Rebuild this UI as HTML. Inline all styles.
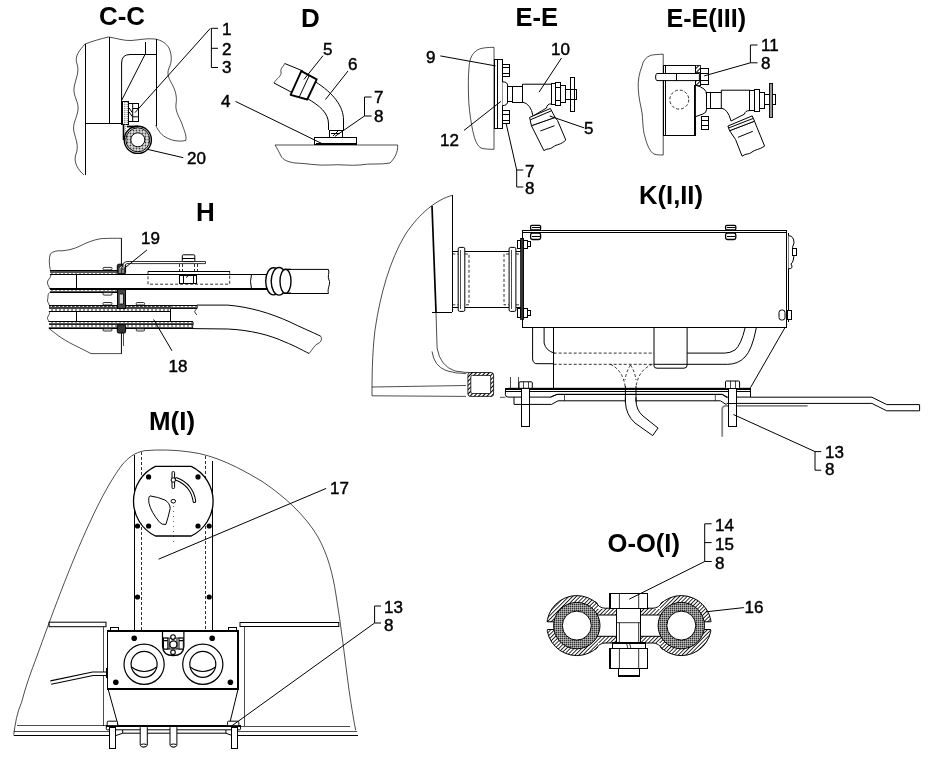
<!DOCTYPE html>
<html><head><meta charset="utf-8">
<style>
html,body{margin:0;padding:0;background:#fff;}
body{width:930px;height:759px;overflow:hidden;}
svg{display:block;will-change:transform;}
text{font-family:"Liberation Sans",sans-serif;fill:#000;}
.t{font-weight:bold;font-size:26px;}
.l{font-size:17px;stroke:#000;stroke-width:0.45px;}
.s{fill:none;stroke:#000;stroke-width:1;}
.th{fill:none;stroke:#000;stroke-width:0.7;}
.k{fill:none;stroke:#000;stroke-width:1.6;}
.w{fill:#fff;stroke:#000;stroke-width:1;}
.d{fill:none;stroke:#000;stroke-width:0.8;stroke-dasharray:3 2;}
</style></head><body>
<svg width="930" height="759" viewBox="0 0 930 759">
<defs>
<pattern id="hat" width="3" height="3" patternUnits="userSpaceOnUse" patternTransform="rotate(45)">
<rect width="3" height="3" fill="#fff"/><line shape-rendering="crispEdges" x1="0" y1="0" x2="0" y2="3" stroke="#000" stroke-width="1"/></pattern>
<pattern id="dots" width="3" height="3" patternUnits="userSpaceOnUse">
<rect width="3" height="3" fill="#ddd"/><circle cx="1.5" cy="1.5" r="0.9" fill="#444"/></pattern>
<pattern id="chain" width="4" height="4" patternUnits="userSpaceOnUse">
<rect width="4" height="4" fill="#555"/><rect x="0.6" y="1" width="2.8" height="2" fill="#fff"/></pattern>
<pattern id="chain2" width="4" height="7" patternUnits="userSpaceOnUse">
<rect width="4" height="7" fill="#444"/><rect x="0.6" y="1" width="2.8" height="2" fill="#fff"/><rect x="2.6" y="4.2" width="2.8" height="1.8" fill="#ddd"/></pattern>
<pattern id="hat2" width="2.7" height="2.7" patternUnits="userSpaceOnUse" patternTransform="rotate(45)">
<rect width="2.7" height="2.7" fill="#fff"/><line shape-rendering="crispEdges" x1="0" y1="0" x2="0" y2="2.7" stroke="#000" stroke-width="0.9"/></pattern>
<pattern id="grain" width="2" height="2" patternUnits="userSpaceOnUse">
<rect width="2" height="2" fill="#888"/><rect x="0" y="0" width="1" height="1" fill="#333"/><rect x="1" y="1" width="1" height="1" fill="#bbb"/></pattern>
</defs>
<rect width="930" height="759" fill="#fff"/>
<!-- TITLES -->
<text class="t" x="99" y="25.3" textLength="46" lengthAdjust="spacingAndGlyphs">C-C</text>
<text class="t" x="301" y="27">D</text>
<text class="t" x="515.5" y="25.8" textLength="42.5" lengthAdjust="spacingAndGlyphs">E-E</text>
<text class="t" x="666.5" y="27.4" textLength="79.5" lengthAdjust="spacingAndGlyphs">E-E(III)</text>
<text class="t" x="196" y="220.8">H</text>
<text class="t" x="639" y="204" textLength="64" lengthAdjust="spacingAndGlyphs">K(I,II)</text>
<text class="t" x="149" y="429.7" textLength="46" lengthAdjust="spacingAndGlyphs">M(I)</text>
<text class="t" x="607.5" y="551.5" textLength="72.5" lengthAdjust="spacingAndGlyphs">O-O(I)</text>
<g id="cc">
<path class="th" d="M85,44 C80,50 74,56 77,64 C80,72 75,80 74,88 C73,96 79,102 78,110 C77,118 72,124 74,132 C76,140 79,146 76,154 C73,162 78,170 84,175"/>
<path class="th" d="M85,44 C93,41 100,39 108.6,37 C116,38 124,41 131,40.5 C139,40 147,38 155,39"/>
<path class="th" d="M155,39 C161,40 166,43 169,48 C172,55 172,62 169,68 C166,75 170,80 173,86 C176,92 177,98 176,104 C175,112 180,118 182,124 C184,130 187,136 185.7,140.5 C181,141.5 178,141 174,140.5 C168,139 162,136 159,131 C157,128 156,127 156,125"/>
<line shape-rendering="crispEdges" class="s" x1="85" y1="44" x2="85" y2="175"/>
<line shape-rendering="crispEdges" class="s" x1="109.8" y1="37" x2="109.8" y2="123.3"/>
<line shape-rendering="crispEdges" class="s" x1="85" y1="123.3" x2="121.6" y2="123.3"/>
<line shape-rendering="crispEdges" class="s" x1="145" y1="41.5" x2="145" y2="54.5"/>
<line shape-rendering="crispEdges" class="s" x1="156" y1="39" x2="156" y2="125.5"/>
<path class="s" d="M156,54.5 L130,54.5 Q121.6,54.5 121.6,63 L121.6,101"/>
<line class="s" x1="145" y1="54.5" x2="121.8" y2="100"/>
<rect shape-rendering="crispEdges" x="121.4" y="101.1" width="7.2" height="23" fill="#fff" stroke="#000" stroke-width="1.1"/>
<rect shape-rendering="crispEdges" x="121.4" y="101.1" width="1.8" height="23" fill="#000"/>
<path d="M124.8,102 L124.8,123.5 M127.2,102 L127.2,123.5" stroke="#555" stroke-width="0.9" stroke-dasharray="1.2 0.8"/>
<rect shape-rendering="crispEdges" class="w" x="128.6" y="103.4" width="10.1" height="18"/>
<path class="s" d="M132.7,103.4 L132.7,121.4 M132.7,108.5 L138.7,108.5 M132.7,116.8 L138.7,116.8 M129.2,108 L132.2,112.5 M129.2,112 L132.2,116.5"/>
<path d="M123.5,124 L123.5,140" stroke="#000" stroke-width="1.6" fill="none"/>
<path d="M125.3,124 L125.3,139" stroke="#777" stroke-width="0.8" fill="none" stroke-dasharray="1.2 0.8"/>
<path d="M126.8,126.5 L138,126.5" stroke="#000" stroke-width="1.8"/>
<circle cx="137.8" cy="139.8" r="9.3" fill="none" stroke="url(#dots)" stroke-width="4.6"/>
<circle cx="137.8" cy="139.8" r="12" fill="none" stroke="#000" stroke-width="1"/>
<circle cx="137.8" cy="139.8" r="13.6" fill="none" stroke="#000" stroke-width="1.4"/>
<circle cx="137.8" cy="139.8" r="7" fill="#fff" stroke="#000" stroke-width="1"/>
<line class="s" x1="135" y1="112.6" x2="210.4" y2="28.3"/>
<path class="s" d="M218,28.3 L211.4,28.3 L211.4,67.5 L218,67.5 M211.4,48.3 L218,48.3"/>
<line class="s" x1="147.7" y1="149.4" x2="183.3" y2="157.7"/>
<text class="l" x="222" y="35.2">1</text>
<text class="l" x="222" y="54.8">2</text>
<text class="l" x="222" y="72.5">3</text>
<text class="l" x="187" y="163.6">20</text>
</g>
<g id="d">
<path class="th" d="M275,145 L397.7,145 C398,152 395,158 390,163 C380,165 370,163 360,165 C350,166 340,164 330,165 C318,166 305,163 295,163 C288,162 283,160 281,156 C279,152 277,148 275,145"/>
<rect shape-rendering="crispEdges" class="w" x="314.7" y="137" width="42" height="7" />
<line shape-rendering="crispEdges" x1="316" y1="143.3" x2="356" y2="143.3" stroke="#000" stroke-width="1.5"/>
<rect shape-rendering="crispEdges" class="w" x="329" y="130" width="13.4" height="7"/>
<line shape-rendering="crispEdges" class="s" x1="331" y1="133.5" x2="340" y2="133.5"/>
<line class="s" x1="333" y1="136" x2="338" y2="131"/>
<path class="s" d="M315.5,81.8 C333,93 343.5,106 343.5,120 L343.5,130"/>
<path class="s" d="M307.2,98.4 C320,106 328.5,113 328.5,124 L328.5,130"/>
<path class="s" d="M284.7,63.5 L303,71 M274,83 L291.8,92.4"/>
<path class="th" d="M284.7,63.5 C283,67 280,69 281,72 C282,76 276,79 274,83"/>
<path d="M301.3,71.1 L316.7,79.4 L307.2,99.5 L290.6,94.8 Z" fill="#fff" stroke="#000" stroke-width="1.9" stroke-linejoin="round"/>
<path class="s" d="M309.5,75 L299,97.5"/>
<line class="s" x1="304" y1="79.4" x2="323" y2="55.7"/>
<line class="s" x1="325.4" y1="99.6" x2="348" y2="71"/>
<path class="s" d="M371.6,97 L364.5,97 L364.5,116 L371.6,116"/>
<line class="s" x1="364.5" y1="116" x2="334.9" y2="136.4"/>
<line class="s" x1="235.5" y1="101.4" x2="321.8" y2="143.5"/>
<text class="l" x="323" y="55">5</text>
<text class="l" x="348" y="70">6</text>
<text class="l" x="374" y="103.2">7</text>
<text class="l" x="374" y="122.1">8</text>
<text class="l" x="221" y="106.5">4</text>
</g>
<g id="ee">
<path class="th" d="M494,47.3 C488,47.5 480,47.5 476,51 C471,55 469.5,60 469,68 C468,78 468.4,85 468.5,95 C468.6,105 470,116 472,127 C474,137 476,145 481,148 C485,149.3 490,149.3 494,149.3 L494,47.3"/>
<rect shape-rendering="crispEdges" x="494.8" y="59.3" width="7.4" height="69" fill="#fff" stroke="#000" stroke-width="1.3"/>
<line shape-rendering="crispEdges" class="s" x1="497" y1="60" x2="497" y2="128"/>
<path class="w" d="M502.4,81.9 Q507.7,81.5 507.7,86 L507.7,101 Q507.7,105.6 502.4,105.6"/>
<rect shape-rendering="crispEdges" class="w" x="502.8" y="64" width="6.8" height="12.4"/>
<line shape-rendering="crispEdges" class="s" x1="502.8" y1="67.5" x2="509.6" y2="67.5"/><line shape-rendering="crispEdges" class="s" x1="502.8" y1="73" x2="509.6" y2="73"/>
<rect shape-rendering="crispEdges" class="w" x="502.8" y="110.7" width="6.8" height="13.1"/>
<line shape-rendering="crispEdges" class="s" x1="502.8" y1="114.5" x2="509.6" y2="114.5"/><line shape-rendering="crispEdges" class="s" x1="502.8" y1="120" x2="509.6" y2="120"/>
<rect shape-rendering="crispEdges" class="w" x="507.7" y="86.6" width="4.8" height="14.8"/>
<rect shape-rendering="crispEdges" class="w" x="512.5" y="86" width="10" height="16"/>
<path class="w" d="M522.5,84.2 L551.6,84.2 L551.6,103.8 Q547,103.8 546.5,108 L533,116 Q531,104 522.5,102 Z" stroke-width="1.1"/>
<rect shape-rendering="crispEdges" class="w" x="551.6" y="83.6" width="4.1" height="20.8"/>
<rect shape-rendering="crispEdges" class="w" x="555.7" y="82.5" width="4.8" height="22.5"/>
<line shape-rendering="crispEdges" class="s" x1="555.7" y1="87" x2="560.5" y2="87"/><line shape-rendering="crispEdges" class="s" x1="555.7" y1="100" x2="560.5" y2="100"/>
<rect shape-rendering="crispEdges" class="w" x="560.5" y="85.4" width="5.3" height="17.2"/>
<rect shape-rendering="crispEdges" class="w" x="570.8" y="77.1" width="3.3" height="34.4"/>
<rect shape-rendering="crispEdges" class="w" x="565.8" y="89.6" width="10.7" height="9.4"/>
<line shape-rendering="crispEdges" class="s" x1="570.8" y1="89.6" x2="570.8" y2="99"/><line shape-rendering="crispEdges" class="s" x1="574.1" y1="89.6" x2="574.1" y2="99"/>
<path class="w" d="M531.4,125.7 L535.6,134 L543.9,150.6 C547,148 550,150 553,147 C557,144 561,145 565.8,140 L557.5,120.4 L555.1,117.4 Z"/>
<path class="w" d="M529.6,117.4 L550.4,108.5 L555.1,117.4 L531.4,125.7 Z" stroke-width="1.2"/>
<line class="s" x1="530.3" y1="119.8" x2="551" y2="111"/>
<line class="s" x1="540.3" y1="131" x2="554.5" y2="125.7"/>
<line class="s" x1="440.3" y1="55.9" x2="495.6" y2="65.9"/>
<line class="s" x1="561.5" y1="58" x2="539" y2="92.2"/>
<line class="s" x1="464" y1="130.4" x2="500.9" y2="101.4"/>
<line class="s" x1="549.7" y1="116" x2="584" y2="127.8"/>
<path class="s" d="M506.2,123.8 L516.7,170 M523.3,170 L516.7,170 L516.7,187 L523.3,187"/>
<text class="l" x="426" y="63.2">9</text>
<text class="l" x="551" y="55.3">10</text>
<text class="l" x="440" y="146">12</text>
<text class="l" x="584" y="134.4">5</text>
<text class="l" x="525" y="176.5">7</text>
<text class="l" x="525" y="193.7">8</text>
</g>
<g id="ee3">
<path class="th" d="M663.2,54.1 C658,54.5 654,54.6 650.7,55.3 C646,57 643,61 642,66 C639,74 638,80 638.2,88 C638.5,98 641,106 642.2,114 C643,124 643,131 645,137 C647,145 650,152 654,154 C657,155 660,155 663.2,155 L663.2,54.1"/>
<rect shape-rendering="crispEdges" class="w" x="663.9" y="65.2" width="32" height="70"/>
<line shape-rendering="crispEdges" class="s" x1="665.8" y1="65.2" x2="665.8" y2="135.2"/>
<line shape-rendering="crispEdges" x1="694.6" y1="85" x2="694.6" y2="135.2" stroke="#000" stroke-width="1.8"/>
<path class="w" d="M657,73.5 L699.4,73.5 L699.4,80.6 L657,80.6 Q655.6,80.6 655.6,77 Q655.6,73.5 657,73.5 Z"/>
<line shape-rendering="crispEdges" class="s" x1="676" y1="73.5" x2="676" y2="80.6"/>
<rect shape-rendering="crispEdges" x="695.9" y="65.2" width="4.7" height="7" fill="url(#hat)" stroke="#000" stroke-width="0.8"/>
<rect shape-rendering="crispEdges" x="695.9" y="80.8" width="4.7" height="5" fill="url(#hat)" stroke="#000" stroke-width="0.8"/>
<rect shape-rendering="crispEdges" class="w" x="700.6" y="68.8" width="7.6" height="15.4"/>
<line shape-rendering="crispEdges" class="s" x1="700.6" y1="73" x2="708.2" y2="73"/><line shape-rendering="crispEdges" class="s" x1="700.6" y1="80" x2="708.2" y2="80"/>
<circle class="d" cx="679.3" cy="99.6" r="9.5" stroke-dasharray="2 2"/>
<path class="w" d="M695.9,85.4 Q700,86 704,89 Q706.6,91 706.6,95 L706.6,109 Q706.6,113 703,114 L695.9,116.5"/>
<rect shape-rendering="crispEdges" class="w" x="701" y="116" width="7.2" height="13.2"/>
<line shape-rendering="crispEdges" class="s" x1="701" y1="120" x2="708.2" y2="120"/><line shape-rendering="crispEdges" class="s" x1="701" y1="125" x2="708.2" y2="125"/>
<rect shape-rendering="crispEdges" class="w" x="706.6" y="92.5" width="15.4" height="15.5"/>
<line shape-rendering="crispEdges" class="s" x1="710" y1="92.5" x2="710" y2="108"/>
<path class="w" d="M721.3,90.2 L749.8,90.2 L749.8,110.6 Q745,110.6 744.5,114.1 L731,121 Q728,109 721.3,108.2 Z" stroke-width="1.1"/>
<rect shape-rendering="crispEdges" class="w" x="749.2" y="90" width="5" height="20"/>
<rect shape-rendering="crispEdges" class="w" x="754.2" y="89" width="5" height="22.5"/>
<rect shape-rendering="crispEdges" class="w" x="759.2" y="92" width="5.5" height="16"/>
<rect shape-rendering="crispEdges" class="w" x="764.7" y="94.9" width="10.6" height="9.4"/>
<rect shape-rendering="crispEdges" x="769.4" y="83.3" width="3.2" height="33.8" fill="#999" stroke="#000" stroke-width="0.9"/>
<path class="w" d="M729.6,130.7 L735.6,139.6 L742.1,156.2 C746,153 749,155 752,152 C756,149 759,150 764.6,146.1 L756.9,127.2 L754.5,121.2 Z"/>
<path class="w" d="M727.9,126 L752.2,115.9 L754.5,121.2 L729.6,130.7 Z" stroke-width="1.2"/>
<line class="s" x1="728.5" y1="128" x2="753" y2="118.5"/>
<line class="s" x1="738" y1="137.3" x2="752.8" y2="131.3"/>
<path class="s" d="M757.5,45 L750.4,45 L750.4,62.8 L757.5,62.8 M750.4,62.8 L704.2,75.9"/>
<text class="l" x="761" y="51">11</text>
<text class="l" x="761" y="68.8">8</text>
</g>
<g id="h">
<path class="th" d="M50.3,269.7 C49,264 49,258 50.3,254 C53,251 58,250.5 62,250.8 C68,250.3 74,249 80,246 C86,243 93,240 100,238.8 C105,238.3 110,238.3 121.4,238.3 L121.4,264"/>
<path class="th" d="M48.5,328 C52,331 55,333 58,335.5 C63,339 68,342 73,344.5 C80,348 86,351 91,353.6 L121.4,353.6 L121.4,333"/>
<line shape-rendering="crispEdges" class="th" x1="123.2" y1="333" x2="123.2" y2="346"/>
<path class="th" d="M50.3,274.3 C52,277 48,279 47.5,282 C47,285 50,287 49.5,289 M49.5,292.5 C47,295 48.5,298 47.5,300 C47,302 49.5,303.5 49,305 M49,311.6 C51,314 47,316 47.5,318.5 C48,320 49,321 48.5,322"/>
<!-- band A -->
<rect shape-rendering="crispEdges" x="50.3" y="270.1" width="67" height="4.2" fill="url(#chain)"/>
<line shape-rendering="crispEdges" x1="50.3" y1="270.1" x2="117.3" y2="270.1" stroke="#000" stroke-width="1.1"/>
<line shape-rendering="crispEdges" x1="50" y1="274.3" x2="267.4" y2="274.3" stroke="#000" stroke-width="1.3"/>
<!-- rod -->
<line shape-rendering="crispEdges" x1="49.5" y1="289.1" x2="267.4" y2="289.1" stroke="#000" stroke-width="1.5"/>
<line shape-rendering="crispEdges" class="s" x1="76.1" y1="274.3" x2="76.1" y2="289.1"/>
<!-- band B -->
<rect shape-rendering="crispEdges" x="49.5" y="289.7" width="67.8" height="2.6" fill="url(#chain)"/>
<line shape-rendering="crispEdges" x1="49.5" y1="292.4" x2="117.3" y2="292.4" stroke="#000" stroke-width="1.1"/>
<!-- band C -->
<rect shape-rendering="crispEdges" x="49" y="305.1" width="121.6" height="6.5" fill="url(#chain2)"/>
<rect shape-rendering="crispEdges" x="170.6" y="305.1" width="26.2" height="3.5" fill="url(#chain)"/>
<line shape-rendering="crispEdges" x1="49" y1="305.1" x2="196.8" y2="305.1" stroke="#000" stroke-width="1"/>
<line shape-rendering="crispEdges" x1="49" y1="311.6" x2="170.6" y2="311.6" stroke="#000" stroke-width="1.2"/>
<line shape-rendering="crispEdges" x1="170.6" y1="308.6" x2="196.8" y2="308.6" stroke="#000" stroke-width="0.8"/>
<!-- sleeve -->
<rect shape-rendering="crispEdges" x="76.1" y="311.6" width="94.5" height="10.5" fill="#fff" stroke="#000" stroke-width="1"/>
<line shape-rendering="crispEdges" x1="170.6" y1="308.6" x2="170.6" y2="322.1" stroke="#000" stroke-width="1.3"/>
<!-- band D -->
<rect shape-rendering="crispEdges" x="48.5" y="322" width="144.4" height="6.6" fill="url(#chain)"/>
<line shape-rendering="crispEdges" x1="48.5" y1="321.8" x2="192.9" y2="321.8" stroke="#000" stroke-width="1"/>
<line shape-rendering="crispEdges" x1="48.5" y1="324" x2="192.9" y2="324" stroke="#000" stroke-width="0.6"/>
<line shape-rendering="crispEdges" x1="48.5" y1="328.6" x2="192.9" y2="328.6" stroke="#000" stroke-width="1.1"/>
<path d="M196.8,305.1 C198.5,307 197,309 195,310.5 C194,312 196,314 197,315 M192.9,321.8 C194.5,323.5 191.5,326 193,328.6" fill="none" stroke="#000" stroke-width="0.8"/>
<!-- pads -->
<g fill="#fff" stroke="#000" stroke-width="0.8">
<rect x="103" y="267.4" width="9" height="2.5" rx="1"/>
<rect x="103" y="292.6" width="9" height="2.5" rx="1"/>
<rect x="103" y="302.5" width="9" height="2.5" rx="1"/>
<rect x="136.2" y="302.5" width="8.3" height="2.5" rx="1"/>
<rect x="103" y="328.8" width="9" height="2.2" rx="1"/>
<rect x="136.2" y="328.8" width="8.3" height="2.2" rx="1"/>
</g>
<!-- clamps -->
<rect x="117.3" y="264.2" width="8.3" height="9.8" rx="1.5" fill="#333" stroke="#000" stroke-width="1"/>
<path d="M120,273 L120,268 Q121.5,265.5 123,268 L123,273" fill="none" stroke="#fff" stroke-width="0.8"/>
<rect shape-rendering="crispEdges" x="117.3" y="289.7" width="8.3" height="18.4" fill="#444" stroke="#000" stroke-width="1"/>
<path d="M119.8,294 L123.5,294 L123.5,304 L119.8,304" fill="#ddd" stroke="#000" stroke-width="0.8"/>
<rect x="117.3" y="324.7" width="8.3" height="8.3" rx="1.5" fill="#333" stroke="#000" stroke-width="1"/>
<line shape-rendering="crispEdges" x1="121.4" y1="238.3" x2="121.4" y2="266" stroke="#000" stroke-width="0.7"/>
<!-- plate -->
<path d="M123,270 L123,265 Q123.5,261.5 127,261.5 L205.5,261.5 L205.5,263.6 L127,263.6 Q125,264 125,266" fill="#fff" stroke="#000" stroke-width="0.8"/>
<rect class="w" x="182.3" y="254.8" width="12.5" height="6.8" rx="1"/>
<line shape-rendering="crispEdges" class="s" x1="182.3" y1="258.5" x2="194.8" y2="258.5"/>
<g class="d" stroke-dasharray="2 1.5"><line shape-rendering="crispEdges" x1="179.4" y1="263.6" x2="179.4" y2="271.3"/><line shape-rendering="crispEdges" x1="182.3" y1="263.6" x2="182.3" y2="271.3"/><line shape-rendering="crispEdges" x1="194.8" y1="263.6" x2="194.8" y2="271.3"/><line shape-rendering="crispEdges" x1="197.7" y1="263.6" x2="197.7" y2="271.3"/></g>
<!-- dashed box -->
<line shape-rendering="crispEdges" class="s" x1="148" y1="271.3" x2="229.7" y2="271.3"/>
<path class="d" d="M148,271.3 L148,284.2 L229.7,284.2 L229.7,271.3"/>
<rect shape-rendering="crispEdges" class="w" x="179.4" y="275.2" width="17.4" height="8.7"/>
<line shape-rendering="crispEdges" class="s" x1="183" y1="275.2" x2="183" y2="283.9"/><line shape-rendering="crispEdges" class="s" x1="193" y1="275.2" x2="193" y2="283.9"/>
<line class="s" x1="186" y1="277.5" x2="189" y2="275.2"/>
<path class="s" d="M251.5,274.3 Q249.5,281.5 251.5,289.1"/>
<!-- hose coupling -->
<path class="w" d="M284,269.4 L328.4,269.4 C330,273 327,276 329,280 C331,284 327,288 328.4,293.5 L284,293.5 Z"/>
<ellipse cx="273.5" cy="281.3" rx="7.8" ry="13.6" fill="#fff" stroke="#000" stroke-width="1.4"/>
<ellipse cx="279" cy="281.3" rx="7.8" ry="13.8" fill="#fff" stroke="#000" stroke-width="1.4"/>
<ellipse cx="285.5" cy="281.3" rx="5.5" ry="12" fill="#fff" stroke="#000" stroke-width="1.4"/>
<path d="M287,269.4 L291,269.4 M287,293.2 L291,293.2" stroke="#000" stroke-width="1.2"/>
<!-- lower pipe right -->
<path class="s" d="M196.8,305.1 L227.7,305.1 C250,307 270,313 290,322 C300,327 312,332 320.6,336.1"/>
<path class="s" d="M192.9,328.6 L227.7,329 C250,330 270,335 285,342 C295,346 302,350 309,353.5"/>
<path class="th" d="M320.6,336.1 C323,340 320,343 317,344 C314,346 313,349 309,353.5"/>
<line shape-rendering="crispEdges" class="th" x1="121.4" y1="333" x2="121.4" y2="353.6"/>
<line class="s" x1="146.9" y1="250" x2="125" y2="267.8"/>
<line class="s" x1="153.6" y1="319.5" x2="172" y2="350.8"/>
<text class="l" x="141" y="244.4">19</text>
<text class="l" x="168.5" y="372.4">18</text>
</g>
<g id="k">
<path class="th" d="M452.3,195.4 C438,199 420,212 405,235 C390,260 380,295 375,330 C372,355 372,380 372,395.8 L466,396.4"/>
<line shape-rendering="crispEdges" x1="452.3" y1="195.4" x2="452.3" y2="312.2" stroke="#000" stroke-width="1.2"/>
<line shape-rendering="crispEdges" x1="432" y1="312.2" x2="452.3" y2="312.2" stroke="#000" stroke-width="1.2"/>
<path d="M432,206 L436,312" stroke="#000" stroke-width="1.7" fill="none"/>
<path class="th" d="M436,312 L437.1,348 Q440,366 455,371 Q466,373 476.6,372.6"/>
<path class="th" d="M432,351.4 Q434,366 446,370.5 Q455,373.6 466.3,373.6"/>
<path class="th" d="M372,387 L466,385.5"/>
<rect x="467.9" y="372.5" width="25.7" height="23.9" rx="2.5" fill="url(#hat)" stroke="#000" stroke-width="0.8"/>
<rect x="470.8" y="375.4" width="19.9" height="18.1" rx="1.5" fill="#fff" stroke="#000" stroke-width="0.8"/>
<!-- connector -->
<line shape-rendering="crispEdges" class="s" x1="452.3" y1="251.4" x2="521.4" y2="251.4"/>
<line shape-rendering="crispEdges" class="s" x1="452.3" y1="307.2" x2="521.4" y2="307.2"/>
<path class="d" d="M452.3,254 L458,254 M452.3,304.8 L458,304.8 M464.8,254 L469,254 L469,304.8 L464.8,304.8 M509.1,254 L504,254 L504,304.8 L509.1,304.8 M516,254 L521,254 M516,304.8 L521,304.8" stroke-dasharray="2.5 1.5"/>
<rect class="w" x="458.2" y="247.4" width="6.6" height="64" rx="1.5" stroke-width="1.2"/>
<rect class="w" x="509.1" y="247.4" width="6.8" height="64" rx="1.5" stroke-width="1.2"/>
<line shape-rendering="crispEdges" class="th" x1="460" y1="250" x2="460" y2="309"/>
<line shape-rendering="crispEdges" class="th" x1="511" y1="250" x2="511" y2="309"/>
<!-- box -->
<rect shape-rendering="crispEdges" class="w" x="522.5" y="230" width="263.7" height="97.3" stroke-width="1.3"/>
<line shape-rendering="crispEdges" class="s" x1="522.5" y1="232.6" x2="786.2" y2="232.6"/>
<line shape-rendering="crispEdges" class="s" x1="788.5" y1="233" x2="788.5" y2="322"/>
<path class="w" d="M788.5,235.6 Q794,236 794,243 Q791,247 794,252 Q794,262 791,264 Q794,268.8 788.5,268.8"/>
<rect shape-rendering="crispEdges" class="w" x="792.5" y="248.2" width="4.3" height="7"/>
<rect shape-rendering="crispEdges" x="520.6" y="238.4" width="3.2" height="80.9" fill="#333" stroke="#000" stroke-width="0.8"/>
<g fill="#fff" stroke="#000" stroke-width="1">
<rect shape-rendering="crispEdges" x="517.5" y="240.3" width="3" height="7.9"/><rect shape-rendering="crispEdges" x="523.8" y="240.3" width="4" height="7.9"/><rect shape-rendering="crispEdges" x="527.8" y="241.8" width="3" height="5"/>
<rect shape-rendering="crispEdges" x="517.5" y="308.3" width="3" height="8.7"/><rect shape-rendering="crispEdges" x="523.8" y="308.3" width="4" height="8.7"/><rect shape-rendering="crispEdges" x="527.8" y="310" width="3" height="5.5"/>
<rect x="530.6" y="225.3" width="10" height="4.7" rx="1.2" stroke-width="1.3"/><rect x="530.6" y="233.2" width="10" height="6.3" rx="1.8" stroke-width="1.3"/>
<rect x="725.6" y="225.3" width="10.2" height="4.7" rx="1.2" stroke-width="1.3"/><rect x="725.6" y="233.2" width="10.2" height="6.3" rx="1.8" stroke-width="1.3"/>
<rect x="779" y="310" width="6" height="10" rx="2.5"/><rect shape-rendering="crispEdges" x="787" y="310.5" width="4.5" height="9"/>
</g>
<line shape-rendering="crispEdges" x1="531.5" y1="227.6" x2="539.5" y2="227.6" stroke="#000" stroke-width="1"/>
<line shape-rendering="crispEdges" x1="531.5" y1="236.3" x2="539.5" y2="236.3" stroke="#000" stroke-width="1"/>
<line shape-rendering="crispEdges" x1="726.7" y1="227.6" x2="734.6" y2="227.6" stroke="#000" stroke-width="1"/>
<line shape-rendering="crispEdges" x1="726.7" y1="236.3" x2="734.6" y2="236.3" stroke="#000" stroke-width="1"/>
<!-- lower body -->
<path class="s" d="M532.6,327.5 L532.6,359 Q533,363.7 537,363.7 L553.7,363.7"/>
<path class="s" d="M544.1,327.5 L544.1,343 Q546,351 554.6,353.1"/>
<line shape-rendering="crispEdges" class="s" x1="553.7" y1="327.5" x2="553.7" y2="387.8"/>
<path class="d" d="M553.7,353.1 L654,353.1 M553.7,364.3 L654,364.3 M610.3,364.3 Q623,370 625.4,387.8 M652.5,364.3 Q638,370 635.9,387.8 M630.5,365 Q626,372 625,380 M630.5,365 Q635,372 636,380" stroke-dasharray="2.5 1.8"/>
<path class="s" d="M654,327.5 L654,366 Q654,368.2 657,368.2 L684,368.2 Q687.1,368.2 687.1,365 L687.1,327.5"/>
<path class="s" d="M756.4,327.5 Q752,350 745,357 Q738,364.3 727.8,364.3 L654,364.3"/>
<path class="s" d="M745.2,327.5 Q741,345 735,350 Q730,353.1 724.8,353.1 L687.1,353.1"/>
<line class="s" x1="785" y1="327.5" x2="750.4" y2="387.8"/>
<!-- base plate & rail -->
<path d="M508,397.1 L550.5,397.1 L557,394.4 L722.2,394.4 L727.3,397.1 L750.5,397.1 L750.5,388.3 L508,388.3 Q505.4,388.3 505.4,391 L505.4,394.5 Q505.4,397.1 508,397.1 Z" fill="#fff" stroke="#000" stroke-width="1"/>
<line shape-rendering="crispEdges" x1="505.4" y1="388.9" x2="750.5" y2="388.9" stroke="#000" stroke-width="2"/>
<line shape-rendering="crispEdges" x1="505.4" y1="391" x2="750.5" y2="391" stroke="#000" stroke-width="1"/>
<path class="th" d="M500,397.3 L505.4,397.3"/>
<path class="s" d="M550.5,397.1 L557,394.4 L722.2,394.4 L727.3,397.8"/>
<path class="s" d="M514,397.1 L514,404.4 L551.6,404.4 L558,400.8 L720.4,400.8 L726.5,404.7"/>
<path class="th" d="M564.5,394.4 L564.5,400.8 M715.3,394.4 L715.3,400.8"/>
<path class="s" d="M750.5,397.2 L871.9,397.2 L886.7,404.6 L919.6,404.6 L919.6,410.8 L886.7,410.8 L871.9,403.4 L726.5,403.4"/>
<path d="M722.2,436.8 L722.2,409 Q722.5,405.8 726,405.8 L807.6,405.8" fill="none" stroke="#888" stroke-width="1.8"/>
<line shape-rendering="crispEdges" class="th" x1="510.8" y1="376.5" x2="510.8" y2="388.3"/>
<line shape-rendering="crispEdges" class="th" x1="518.3" y1="376.5" x2="518.3" y2="388.3"/>
<!-- bolts -->
<rect shape-rendering="crispEdges" class="w" x="521.5" y="388.3" width="8" height="38"/>
<line shape-rendering="crispEdges" class="s" x1="521.5" y1="404.4" x2="529.5" y2="404.4"/>
<rect class="w" x="519" y="381.8" width="13.3" height="6.5" rx="1"/>
<line shape-rendering="crispEdges" class="th" x1="523" y1="382" x2="523" y2="388"/><line shape-rendering="crispEdges" class="th" x1="528" y1="382" x2="528" y2="388"/>
<rect shape-rendering="crispEdges" class="w" x="728.4" y="388.5" width="8.2" height="37.9"/>
<line shape-rendering="crispEdges" class="s" x1="728.4" y1="403.4" x2="736.6" y2="403.4"/>
<rect class="w" x="725.5" y="381" width="14.1" height="7.5" rx="1"/>
<line shape-rendering="crispEdges" class="th" x1="730" y1="381" x2="730" y2="388.5"/><line shape-rendering="crispEdges" class="th" x1="735" y1="381" x2="735" y2="388.5"/>
<!-- drain -->
<path class="w" d="M625.4,397.5 L625.4,402 Q626,415 635,423 L652.7,435.6 L658,428 L643,416 Q636,410 636,400 L636,397.5"/>
<path class="s" d="M625.4,386 L625.4,402 M636,386 L636,402"/>
<line class="s" x1="733.4" y1="414.5" x2="815" y2="451.6"/>
<path class="s" d="M821.2,451.6 L815,451.6 L815,470.2 L821.2,470.2"/>
<text class="l" x="825" y="457.8">13</text>
<text class="l" x="825" y="475.1">8</text>
</g>
<g id="m">
<path class="th" d="M13.7,734.7 C15,725 17,712 21.6,702.3 C26,685 31,672 37,656 C50,620 70,565 90,522 C100,500 112,478 122,465 C128,458 134,452.6 145,450.6 C160,449.5 175,449.8 190,452 C215,455 240,468 263,482 C285,497 305,515 318,537 C328,555 333,575 336,595 C341,625 345,660 349,690 C352,710 354,722 355.7,730.3"/>
<!-- beams -->
<rect class="w" x="49.1" y="622.2" width="56.9" height="4.5" stroke="#555" stroke-width="0.8"/>
<line shape-rendering="crispEdges" class="th" x1="103.1" y1="626.7" x2="103.1" y2="725.9"/>
<line shape-rendering="crispEdges" class="th" x1="16.7" y1="725.9" x2="106" y2="725.9"/>
<rect class="w" x="240" y="622.5" width="98.8" height="4" stroke="#555" stroke-width="0.8"/>
<line shape-rendering="crispEdges" class="th" x1="244" y1="626.5" x2="244" y2="726"/>
<line shape-rendering="crispEdges" class="th" x1="238" y1="726" x2="350" y2="726"/>
<path class="th" d="M13.7,731.5 L115.8,731.5 M231,731.5 L357,731.5"/>
<path class="s" d="M13.7,735.5 L116,735.5 L122.7,733.2 L225.9,733.2 L232,735.5 L358,735.5 M122.7,729.8 L122.7,733.2 M225.9,729.8 L225.9,733.2"/>
<!-- column -->
<line shape-rendering="crispEdges" x1="134.7" y1="454.5" x2="134.7" y2="631.2" stroke="#000" stroke-width="1.5"/>
<line shape-rendering="crispEdges" x1="212.3" y1="460.5" x2="212.3" y2="631.2" stroke="#000" stroke-width="1.5"/>
<line shape-rendering="crispEdges" class="d" x1="141.7" y1="452" x2="141.7" y2="631" stroke-dasharray="3 2"/>
<line shape-rendering="crispEdges" class="d" x1="205" y1="456" x2="205" y2="631" stroke-dasharray="3 2"/>
<!-- disc -->
<path d="M155.4,466.4 L191.2,466.4 A38.6,38.6 0 0 1 191.2,536 L155.4,536 A38.6,38.6 0 0 1 155.4,466.4 Z" fill="#fff" stroke="#000" stroke-width="1.3"/>
<g fill="#000">
<circle cx="148.6" cy="476.9" r="2.6"/><circle cx="198" cy="476.9" r="2.6"/>
<circle cx="148.6" cy="526" r="2.6"/><circle cx="198" cy="526" r="2.6"/>
<circle cx="137.5" cy="526" r="2.6"/><circle cx="209.2" cy="526" r="2.6"/>
<circle cx="137.5" cy="597" r="2.6"/><circle cx="209.2" cy="597" r="2.6"/>
</g>
<path d="M176.5,479 Q192,485 194.4,501.2" fill="none" stroke="#000" stroke-width="3.6" stroke-linecap="round"/>
<path d="M176.5,479 Q192,485 194.4,501.2" fill="none" stroke="#fff" stroke-width="1.6" stroke-linecap="round"/>
<rect class="w" x="172" y="471.6" width="2.6" height="16.9" rx="1"/>
<circle class="w" cx="173.3" cy="480" r="2.2"/>
<ellipse class="w" cx="173.3" cy="501.2" rx="2.3" ry="1.8"/>
<path class="s" d="M150,495.9 Q158,497 164.9,500 Q170,503 170.2,508.6 Q168,518 165.9,524.4 Q162,525 159.6,522.3 Q151,512 149,503.3 Q148,497 150,495.9 Z" stroke-width="1.2"/>
<line shape-rendering="crispEdges" x1="173.3" y1="506" x2="173.3" y2="542" stroke="#000" stroke-width="0.6" stroke-dasharray="1 4"/>
<!-- leader 17 -->
<line class="s" x1="158.6" y1="559.2" x2="326.2" y2="488.4"/>
<text class="l" x="330" y="493.8">17</text>
<!-- box -->
<rect shape-rendering="crispEdges" class="w" x="110" y="627.7" width="8.5" height="3.9"/>
<rect shape-rendering="crispEdges" class="w" x="228" y="627.7" width="8.5" height="3.9"/>
<rect shape-rendering="crispEdges" x="107.4" y="631.2" width="130.8" height="57.5" fill="#fff" stroke="#000" stroke-width="1.8"/>
<path d="M162.5,632 L162.5,646.4 Q163,655.6 173.2,655.6 Q183.4,655.6 183.9,646.4 L183.9,632" fill="#fff" stroke="#000" stroke-width="1.2"/>
<path d="M163,638.1 L183.4,638.1 M163,649 L183.4,649 M169.1,639 L169.1,649 M177,639 L177,649" stroke="#000" stroke-width="1" fill="none"/>
<rect x="163.5" y="638.1" width="4.3" height="10.9" fill="#fff" stroke="#000" stroke-width="1"/>
<rect x="179" y="638.1" width="4.3" height="10.9" fill="#fff" stroke="#000" stroke-width="1"/>
<path d="M163.5,640.7 L167.8,640.7 M179,640.7 L183.3,640.7" stroke="#000" stroke-width="1.2"/>
<circle cx="173" cy="637.1" r="2.3" fill="#fff" stroke="#000" stroke-width="1.1"/>
<circle cx="173.4" cy="644.4" r="3.6" fill="#fff" stroke="#000" stroke-width="1.3"/>
<circle cx="173" cy="652.3" r="2.3" fill="#fff" stroke="#000" stroke-width="1.1"/>
<g fill="none" stroke="#000" stroke-width="1.2">
<circle cx="144.1" cy="664.3" r="20.1"/><circle cx="144.1" cy="664.3" r="13"/>
<circle cx="202.8" cy="664.3" r="20.1"/><circle cx="202.8" cy="664.3" r="13"/>
<path d="M131.5,667 Q144.1,676 156.7,667 M190.2,667 Q202.8,676 215.4,667"/>
</g>
<g fill="#000"><circle cx="134.2" cy="638.3" r="2.8"/><circle cx="212.2" cy="638.3" r="2.8"/>
<circle cx="115.8" cy="682.3" r="2.8"/><circle cx="230.4" cy="682.3" r="2.8"/></g>
<!-- cable -->
<path d="M50.8,682.6 L92.8,673.8 L107,673.8" fill="none" stroke="#000" stroke-width="4.6"/>
<path d="M50.8,682.6 L92.8,673.8 L107,673.8" fill="none" stroke="#fff" stroke-width="2.4"/>
<rect shape-rendering="crispEdges" x="106" y="668" width="2" height="10" fill="#000"/>
<!-- trapezoid and base -->
<path class="s" d="M108,688.7 L118,725 M238.2,688.7 L229.3,725"/>
<rect class="w" x="106.3" y="725.5" width="134.2" height="4.3" rx="1"/>
<line shape-rendering="crispEdges" x1="106.3" y1="726.3" x2="240.5" y2="726.3" stroke="#000" stroke-width="1.8"/>
<g fill="#fff" stroke="#000" stroke-width="1">
<rect shape-rendering="crispEdges" x="109.3" y="727.2" width="5.7" height="21.5"/>
<rect shape-rendering="crispEdges" x="231.4" y="727.2" width="5.7" height="21.5"/>
<rect x="107.2" y="721.2" width="10.3" height="4.5" rx="1"/>
<rect x="227.6" y="721.2" width="11.2" height="4.5" rx="1"/>
<path d="M140.2,727.2 L140.2,745 Q143.7,749 147.3,745 L147.3,727.2"/>
<path d="M170,727.2 L170,745 Q173.5,749 176.9,745 L176.9,727.2"/>
<ellipse cx="143.7" cy="745.5" rx="3.2" ry="1.5"/><ellipse cx="173.5" cy="745.5" rx="3.2" ry="1.5"/>
</g>
<line class="s" x1="231.6" y1="726" x2="374.6" y2="623"/>
<path class="s" d="M381,606 L374.6,606 L374.6,623 L381,623"/>
<text class="l" x="384" y="612.5">13</text>
<text class="l" x="384" y="630.8">8</text>
</g>
<g id="oo">
<circle cx="576.8" cy="625.6" r="26.6" fill="none" stroke="url(#hat2)" stroke-width="6.8"/>
<circle cx="576.8" cy="625.6" r="30" fill="none" stroke="#000" stroke-width="1"/>
<rect shape-rendering="crispEdges" x="545.8" y="621.8" width="11" height="7.7" fill="#fff"/>
<path d="M547.3,621.8 L554.3,621.8 M547.3,629.5 L554.3,629.5" stroke="#000" stroke-width="1" fill="none"/><circle cx="681.3" cy="625.6" r="26.6" fill="none" stroke="url(#hat2)" stroke-width="6.8"/>
<circle cx="681.3" cy="625.6" r="30" fill="none" stroke="#000" stroke-width="1"/>
<rect shape-rendering="crispEdges" x="701.3" y="621.8" width="11" height="7.7" fill="#fff"/>
<path d="M710.8,621.8 L703.8,621.8 M710.8,629.5 L703.8,629.5" stroke="#000" stroke-width="1" fill="none"/>
<rect shape-rendering="crispEdges" x="594" y="615" width="22.5" height="21.3" fill="#fff"/>
<rect shape-rendering="crispEdges" x="640.6" y="615" width="23" height="21.3" fill="#fff"/>
<rect shape-rendering="crispEdges" x="596" y="608.2" width="20.5" height="6.8" fill="url(#hat2)"/>
<rect shape-rendering="crispEdges" x="596" y="636.3" width="20.5" height="6.8" fill="url(#hat2)"/>
<rect shape-rendering="crispEdges" x="640.6" y="608.2" width="21" height="6.8" fill="url(#hat2)"/>
<rect shape-rendering="crispEdges" x="640.6" y="636.3" width="21" height="6.8" fill="url(#hat2)"/>
<rect shape-rendering="crispEdges" x="598" y="604" width="6" height="4.5" fill="#fff"/><rect shape-rendering="crispEdges" x="598" y="642.8" width="6" height="4.5" fill="#fff"/>
<rect shape-rendering="crispEdges" x="654" y="604" width="6" height="4.5" fill="#fff"/><rect shape-rendering="crispEdges" x="654" y="642.8" width="6" height="4.5" fill="#fff"/>
<path d="M595.5,601.5 Q599,608.2 605,608.2 L616.5,608.2 M595.5,649.7 Q599,643 605,643 L616.5,643 M662.6,601.5 Q659,608.2 653,608.2 L640.6,608.2 M662.6,649.7 Q659,643 653,643 L640.6,643" fill="none" stroke="#000" stroke-width="1"/>
<path d="M596,615 L616.5,615 M596,636.3 L616.5,636.3 M640.6,615 L662,615 M640.6,636.3 L662,636.3" stroke="#000" stroke-width="1"/>
<circle cx="576.8" cy="625.6" r="23.2" fill="url(#grain)" stroke="#000" stroke-width="1"/>
<circle cx="576.8" cy="625.6" r="14.5" fill="#fff" stroke="#000" stroke-width="1"/><circle cx="681.3" cy="625.6" r="23.2" fill="url(#grain)" stroke="#000" stroke-width="1"/>
<circle cx="681.3" cy="625.6" r="14.5" fill="#fff" stroke="#000" stroke-width="1"/>
<g fill="#fff" stroke="#000" stroke-width="1.1">
<rect shape-rendering="crispEdges" x="610" y="593.7" width="37.4" height="14.5"/>
<rect shape-rendering="crispEdges" x="616.5" y="608.2" width="24.1" height="34.8"/>
<rect shape-rendering="crispEdges" x="612.6" y="643" width="32.9" height="5.9"/>
<rect shape-rendering="crispEdges" x="610" y="648.9" width="37.4" height="19.3"/>
<rect shape-rendering="crispEdges" x="618.4" y="668.2" width="21.3" height="7.8"/>
</g>
<path d="M619.4,593.7 L619.4,608.2 M638.7,593.7 L638.7,608.2 M616.5,622.7 L640.6,622.7 M619.4,622.7 L619.4,643 M638.7,622.7 L638.7,643 M619.4,648.9 L619.4,668.2 M638.7,648.9 L638.7,668.2 M626.5,643 L628,648.9 M629.5,643 L631,648.9" stroke="#000" stroke-width="0.8" fill="none"/>
<line class="s" x1="629.2" y1="599.2" x2="704.7" y2="561.5"/>
<path class="s" d="M711.7,523.8 L704.7,523.8 L704.7,561.5 L711.7,561.5 M704.7,542.6 L711.7,542.6"/>
<line class="s" x1="706" y1="611.8" x2="743.9" y2="607.6"/>
<text class="l" x="715" y="530.8">14</text>
<text class="l" x="715" y="550.3">15</text>
<text class="l" x="715" y="568.5">8</text>
<text class="l" x="744.5" y="613.2">16</text>
</g>
</svg>
</body></html>
